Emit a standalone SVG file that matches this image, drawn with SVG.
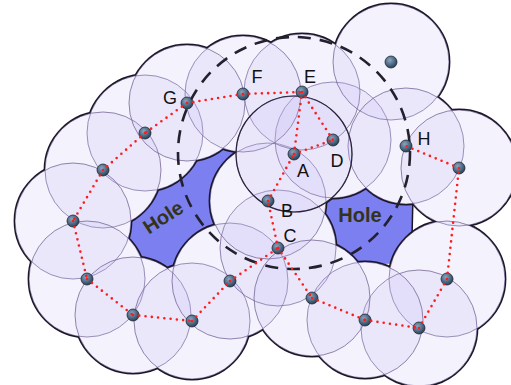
<svg xmlns="http://www.w3.org/2000/svg" width="511" height="385" viewBox="0 0 511 385">
  <style>
    .disk { fill: #c4b6f2; fill-opacity: 0.18; stroke: #6e5f90; stroke-width: 1; stroke-opacity: 0.75; }
    .rim { fill: none; stroke: #1c1628; stroke-width: 2.8; }
    .link { fill: none; stroke: #ff1c1c; stroke-width: 2.6; stroke-linecap: round; stroke-dasharray: 0 6.3; }
    .node { fill: url(#ball); stroke: #1d2835; stroke-width: 0.8; }
    .lbl { font-family: "Liberation Sans", Arial, sans-serif; font-size: 18px; fill: #111; text-anchor: middle; }
    .hole-lbl { font-family: "Liberation Sans", Arial, sans-serif; font-size: 20px; font-weight: bold; fill: #33331a; text-anchor: middle; }
  </style>
  <defs>
    <radialGradient id="ball" cx="0.4" cy="0.35" r="0.7">
      <stop offset="0" stop-color="#8aa6c0"/>
      <stop offset="0.6" stop-color="#4a6680"/>
      <stop offset="1" stop-color="#27384a"/>
    </radialGradient>
    <!-- sensing disks, radius 58 -->
    <g id="disks">
      <circle cx="145" cy="133" r="58"/>
      <circle cx="103" cy="170" r="58"/>
      <circle cx="73" cy="221" r="58"/>
      <circle cx="87" cy="279" r="58"/>
      <circle cx="133" cy="315" r="58"/>
      <circle cx="192" cy="321" r="58"/>
      <circle cx="230" cy="281" r="58"/>
      <circle cx="278" cy="248" r="58"/>
      <circle cx="268" cy="201" r="58"/>
      <circle cx="333" cy="140" r="58"/>
      <circle cx="302" cy="92" r="58"/>
      <circle cx="243" cy="94" r="58"/>
      <circle cx="187" cy="103" r="58"/>
      <circle cx="391" cy="62" r="58"/>
      <circle cx="406" cy="146" r="58"/>
      <circle cx="459" cy="168" r="58"/>
      <circle cx="447" cy="279" r="58"/>
      <circle cx="419" cy="328" r="58"/>
      <circle cx="365" cy="320" r="58"/>
      <circle cx="312" cy="298" r="58"/>
      <circle cx="294" cy="154" r="58"/>
    </g>
    <!-- area not covered by any disk -->
    <mask id="uncovered" maskUnits="userSpaceOnUse" x="0" y="0" width="511" height="385">
      <rect x="0" y="0" width="511" height="385" fill="#fff"/>
      <use href="#disks" fill="#000"/>
    </mask>
    <!-- holes: uncovered area limited to the two interior gaps -->
    <mask id="holes" maskUnits="userSpaceOnUse" x="0" y="0" width="511" height="385">
      <polygon points="115,240 140,190 190,160 240,140 250,180 225,250 170,275 120,270" fill="#fff"/>
      <polygon points="318,195 340,170 400,170 413,190 412,262 330,268" fill="#fff"/>
      <use href="#disks" fill="#000"/>
    </mask>
  </defs>

  <rect width="511" height="385" fill="#fff"/>

  <!-- coverage holes -->
  <rect width="511" height="385" fill="#7b7ff0" mask="url(#holes)"/>
  <!-- edge closing the right hole -->
  <line x1="413" y1="196" x2="412" y2="236" stroke="#1c1628" stroke-width="1.5" mask="url(#uncovered)"/>

  <!-- disks -->
  <use href="#disks" class="disk"/>

  <!-- outer boundary of the covered area -->
  <use href="#disks" class="rim" mask="url(#uncovered)"/>

  <!-- emphasised disk around A -->
  <circle cx="294" cy="154" r="58" fill="none" stroke="#2a2238" stroke-width="1.2"/>

  <!-- 2R range around A -->
  <circle cx="294" cy="153" r="116" fill="none" stroke="#23212e" stroke-width="2.6" stroke-dasharray="13 9"/>

  <!-- sensor nodes -->
  <g id="nodes">
    <g id="n1"><circle class="node" cx="145" cy="133" r="6"/></g>
    <g id="n2"><circle class="node" cx="103" cy="170" r="6"/></g>
    <g id="n3"><circle class="node" cx="73" cy="221" r="6"/></g>
    <g id="n4"><circle class="node" cx="87" cy="279" r="6"/></g>
    <g id="n5"><circle class="node" cx="133" cy="315" r="6"/></g>
    <g id="n6"><circle class="node" cx="192" cy="321" r="6"/></g>
    <g id="n7"><circle class="node" cx="230" cy="281" r="6"/></g>
    <g id="nodeC"><circle class="node" cx="278" cy="248" r="6"/><text class="lbl" x="290" y="242">C</text></g>
    <g id="nodeB"><circle class="node" cx="268" cy="201" r="6"/><text class="lbl" x="287" y="217">B</text></g>
    <g id="nodeA"><circle class="node" cx="294" cy="154" r="6"/><text class="lbl" x="303" y="177">A</text></g>
    <g id="nodeD"><circle class="node" cx="333" cy="140" r="6"/><text class="lbl" x="337" y="167">D</text></g>
    <g id="nodeE"><circle class="node" cx="302" cy="92" r="6"/><text class="lbl" x="310" y="83">E</text></g>
    <g id="nodeF"><circle class="node" cx="243" cy="94" r="6"/><text class="lbl" x="257" y="83">F</text></g>
    <g id="nodeG"><circle class="node" cx="187" cy="103" r="6"/><text class="lbl" x="170" y="104">G</text></g>
    <g id="n15"><circle class="node" cx="391" cy="62" r="6"/></g>
    <g id="nodeH"><circle class="node" cx="406" cy="146" r="6"/><text class="lbl" x="424" y="145">H</text></g>
    <g id="n17"><circle class="node" cx="459" cy="168" r="6"/></g>
    <g id="n18"><circle class="node" cx="447" cy="279" r="6"/></g>
    <g id="n19"><circle class="node" cx="419" cy="328" r="6"/></g>
    <g id="n20"><circle class="node" cx="365" cy="320" r="6"/></g>
    <g id="n21"><circle class="node" cx="312" cy="298" r="6"/></g>
  </g>

  <!-- links between neighbouring nodes -->
  <g id="links" class="link">
    <line x1="187" y1="103" x2="243" y2="94"/>
    <line x1="243" y1="94" x2="302" y2="92"/>
    <line x1="187" y1="103" x2="145" y2="133"/>
    <line x1="145" y1="133" x2="103" y2="170"/>
    <line x1="103" y1="170" x2="73" y2="221"/>
    <line x1="73" y1="221" x2="87" y2="279"/>
    <line x1="87" y1="279" x2="133" y2="315"/>
    <line x1="133" y1="315" x2="192" y2="321"/>
    <line x1="192" y1="321" x2="230" y2="281"/>
    <line x1="230" y1="281" x2="278" y2="248"/>
    <line x1="278" y1="248" x2="268" y2="201"/>
    <line x1="268" y1="201" x2="294" y2="154"/>
    <line x1="294" y1="154" x2="302" y2="92"/>
    <line x1="302" y1="92" x2="333" y2="140"/>
    <line x1="294" y1="154" x2="333" y2="140"/>
    <line x1="278" y1="248" x2="312" y2="298"/>
    <line x1="312" y1="298" x2="365" y2="320"/>
    <line x1="365" y1="320" x2="419" y2="328"/>
    <line x1="419" y1="328" x2="447" y2="279"/>
    <line x1="447" y1="279" x2="459" y2="168"/>
    <line x1="459" y1="168" x2="406" y2="146"/>
  </g>

  <!-- hole labels -->
  <text class="hole-lbl" transform="translate(163,217) rotate(-33)" x="0" y="7">Hole</text>
  <text class="hole-lbl" x="360" y="222">Hole</text>
</svg>
